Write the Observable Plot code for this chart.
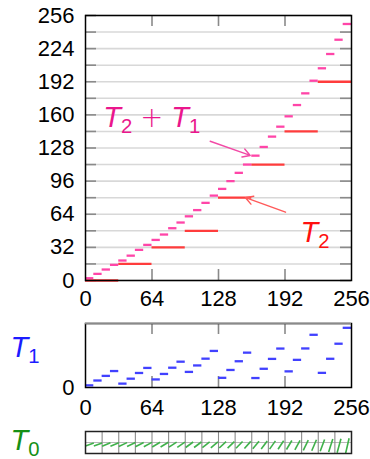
<!DOCTYPE html>
<html>
<head>
<meta charset="utf-8">
<script src="https://cdn.jsdelivr.net/npm/d3@7"></script>
<script src="https://cdn.jsdelivr.net/npm/@observablehq/plot@0.6"></script>
<style>
  html, body { margin: 0; padding: 0; background: white; width: 370px; height: 459px; overflow: hidden; }
  #chart svg { display: block; overflow: visible; }
</style>
</head>
<body>
<div id="chart"></div>
<script>
// ---------- data ----------
const xTicks = [0, 64, 128, 192, 256];
const xInnerTicks = [64, 128, 192];
const yLabels = [0, 32, 64, 96, 128, 160, 192, 224, 256];
const yGrid = [0, 16, 32, 48, 64, 80, 96, 112, 128, 144, 160, 176, 192, 208, 224, 240, 256];
const t0Grid = [16, 32, 48, 64, 80, 96, 112, 128, 144, 160, 176, 192, 208, 224, 240];

// T2: coarse table, one step per 32 inputs
const t2Start = [0, 32, 64, 96, 128, 160, 192, 224];
const t2Width = 32;
const t2Values = [0, 16, 32, 48, 80, 112, 144, 192];

// fine blocks, one step per 8 inputs
const blockStart = [0, 8, 16, 24, 32, 40, 48, 56, 64, 72, 80, 88, 96, 104, 112, 120,
                    128, 136, 144, 152, 160, 168, 176, 184, 192, 200, 208, 216, 224, 232, 240, 248];
const blockWidth = 8;

// T2 + T1
const sumValues = [2.2, 6.4, 10.6, 15.1, 19.3, 24, 29.6, 34.4,
                   39.2, 44.4, 50.5, 56, 62, 68, 75, 82,
                   88.5, 96, 104, 112, 120.6, 129, 139, 148.6,
                   158.6, 169.5, 180.8, 193, 205, 218.8, 232.6, 247.8];

// T1
const t1Values = [2, 6.5, 10.8, 15.3, 3.6, 8.2, 13.5, 18.2,
                  7.5, 12.6, 18.4, 24, 14.5, 20.5, 26.8, 34,
                  9, 16.3, 24.4, 32.4, 8.8, 17.4, 26.6, 36.2,
                  15, 25.7, 36.3, 49, 13.6, 26.7, 40.7, 55.5];
const t1Max = 59.5;

// T0 residual per fine block: start value, end value, horizontal extent
const t0Lo = [-3.5, -3.5, -3.8, -3.8, -4, -4, -4.2, -4.2,
              -4.5, -4.5, -4.7, -4.8, -5, -5, -5.2, -5.3,
              -5.5, -5.6, -5.8, -6, -6.2, -6.4, -6.6, -6.8,
              -7, -7.4, -7.8, -8.2, -8.8, -9.5, -10.2, -11];
const t0Hi = [-0.5, -0.4, -0.3, -0.2, -0.1, 0, 0, 0.1,
              0.2, 0.3, 0.3, 0.4, 0.5, 0.5, 0.6, 0.7,
              0.8, 0.9, 1, 1.1, 1.2, 1.4, 1.6, 1.8,
              2, 2.2, 2.4, 2.7, 3, 3.4, 3.8, 4.2];
const t0Span = [8, 8, 8, 8, 8, 8, 8, 7.8,
                7.6, 7.5, 7.4, 7.3, 7.2, 7, 7, 6.8,
                6.6, 6.5, 6.3, 6.1, 6, 5.8, 5.6, 5.4,
                5.2, 5, 4.8, 4.5, 4.2, 4, 3.7, 3.4];
const t0Range = 11;

// annotations (data coordinates)
const sumNote = {x: 17, y: 148, text: "T₂\u00a0+\u00a0T₁"};
const sumArrow = {x1: 120, y1: 134.5, x2: 158.5, y2: 120.8};
const t2Note = {x: 207, y: 37, text: "T₂"};
const t2Arrow = {x1: 192.5, y1: 66, x2: 154, y2: 80};

// ---------- tables ----------
const t2Data = t2Start.map((x0, i) => ({x0, x1: x0 + t2Width, v: t2Values[i]}));
const sumData = blockStart.map((x0, i) => ({x0, x1: x0 + blockWidth, v: sumValues[i]}));
const t1Data = blockStart.map((x0, i) => ({x0, x1: x0 + blockWidth, v: t1Values[i]}));
const t0Data = blockStart.map((x0, i) => ({
  xa: x0 + (blockWidth - t0Span[i]) / 2,
  xb: x0 + (blockWidth + t0Span[i]) / 2,
  lo: t0Lo[i], hi: t0Hi[i]
}));

// ---------- styling ----------
const FONT = "'Liberation Sans', Arial, sans-serif";
const W = 370, ML = 85, MR = 19;
const PW = W - ML - MR;
const TICK = 11;
const RED = "#ff3c3c", RED_TXT = "#ff1010", RED_ARROW = "#ff5a5a";
const PINK = "#ff45a8", PINK_TXT = "#ea168c", PINK_ARROW = "#f24aa6";
const BLUE = "#4141ff", BLUE_TXT = "#1c1cff";
const GREEN = "#3fb14a", GREEN_TXT = "#159015";
const TICK_COL = "#8a8a8a", GRID_COL = "#d8d8d8";
const LABEL_FS = 22, MATH_FS = 29;

function mathify(svg) {
  const ns = "http://www.w3.org/2000/svg";
  svg.querySelectorAll("text").forEach(t => {
    const s = t.textContent;
    if (!/[₀-₉]/.test(s)) return;
    const g = t.closest("[font-size]");
    const fs = parseFloat(t.getAttribute("font-size") || (g && g.getAttribute("font-size")) || MATH_FS);
    t.textContent = "";
    let shift = 0;
    for (const ch of s) {
      const ts = document.createElementNS(ns, "tspan");
      const sub = "₀₁₂₃₄₅₆₇₈₉".indexOf(ch);
      if (sub >= 0) {
        ts.textContent = String(sub);
        ts.setAttribute("font-size", (fs * 0.7).toFixed(1));
        ts.setAttribute("font-style", "normal");
        ts.setAttribute("dy", (fs * 0.2).toFixed(1));
        shift = fs * 0.2;
      } else {
        ts.textContent = ch;
        ts.setAttribute("font-style", ch === "T" ? "italic" : "normal");
        if (ch === "+") {
          ts.setAttribute("font-size", (fs * 0.95).toFixed(1));
          ts.setAttribute("font-family", "'DejaVu Sans', sans-serif");
          ts.setAttribute("font-weight", "200");
        }
        if (shift) { ts.setAttribute("dy", (-shift).toFixed(1)); shift = 0; }
      }
      t.appendChild(ts);
    }
  });
  return svg;
}

const baseStyle = {fontFamily: FONT, fontSize: LABEL_FS + "px", background: "transparent", overflow: "visible", color: "black"};

// ---------- main panel ----------
const mainH = 312, mainMT = 15, mainMB = 32;
const mainPH = mainH - mainMT - mainMB;
const mainPlot = Plot.plot({
  width: W, height: mainH, marginLeft: ML, marginRight: MR, marginTop: mainMT, marginBottom: mainMB,
  x: {domain: [0, 256], label: null},
  y: {domain: [0, 256], label: null},
  style: baseStyle,
  marks: [
    Plot.ruleY(yGrid, {stroke: GRID_COL, strokeWidth: 1.6}),
    Plot.tickY(yGrid, {y: d => d, stroke: TICK_COL, strokeWidth: 1.6, insetRight: PW - TICK}),
    Plot.tickY(yGrid, {y: d => d, stroke: TICK_COL, strokeWidth: 1.6, insetLeft: PW - TICK}),
    Plot.tickX(xInnerTicks, {x: d => d, stroke: TICK_COL, strokeWidth: 1.6, insetBottom: mainPH - TICK}),
    Plot.tickX(xInnerTicks, {x: d => d, stroke: TICK_COL, strokeWidth: 1.6, insetTop: mainPH - TICK}),
    Plot.ruleY(t2Data, {y: "v", x1: "x0", x2: "x1", stroke: RED, strokeWidth: 2.3}),
    Plot.ruleY(sumData, {y: "v", x1: "x0", x2: "x1", stroke: PINK, strokeWidth: 2.3}),
    Plot.arrow([sumArrow], {x1: "x1", y1: "y1", x2: "x2", y2: "y2", stroke: PINK_ARROW, strokeWidth: 1.4, headLength: 9}),
    Plot.arrow([t2Arrow], {x1: "x1", y1: "y1", x2: "x2", y2: "y2", stroke: RED_ARROW, strokeWidth: 1.4, headLength: 9}),
    Plot.text([sumNote], {x: "x", y: "y", text: "text", fill: PINK_TXT, fontSize: MATH_FS, textAnchor: "start", lineAnchor: "bottom"}),
    Plot.text([t2Note], {x: "x", y: "y", text: "text", fill: RED_TXT, fontSize: MATH_FS, textAnchor: "start", lineAnchor: "bottom"}),
    Plot.frame({stroke: "black", strokeWidth: 1.5}),
    Plot.axisX({ticks: xTicks, tickSize: 0, tickPadding: 10, fontSize: LABEL_FS, label: null}),
    Plot.axisY({ticks: yLabels, tickSize: 0, tickPadding: 11, fontSize: LABEL_FS, label: null})
  ]
});

// ---------- T1 panel ----------
const t1H = 108, t1MT = 11, t1MB = 33;
const t1PH = t1H - t1MT - t1MB;
const t1Plot = Plot.plot({
  width: W, height: t1H, marginLeft: ML, marginRight: MR, marginTop: t1MT, marginBottom: t1MB,
  x: {domain: [0, 256], label: null},
  y: {domain: [0, t1Max], label: null},
  style: baseStyle,
  marks: [
    Plot.tickX(xInnerTicks, {x: d => d, stroke: TICK_COL, strokeWidth: 1.6, insetBottom: t1PH - TICK}),
    Plot.tickX(xInnerTicks, {x: d => d, stroke: TICK_COL, strokeWidth: 1.6, insetTop: t1PH - TICK}),
    Plot.ruleY(t1Data, {y: "v", x1: "x0", x2: "x1", stroke: BLUE, strokeWidth: 2.3}),
    Plot.frame({stroke: "black", strokeWidth: 1.5}),
    Plot.ruleY([t1Max], {stroke: "#8a8a8a", strokeWidth: 1.6}),
    Plot.axisX({ticks: xTicks, tickSize: 0, tickPadding: 12, fontSize: LABEL_FS, label: null}),
    Plot.axisY({ticks: [0], tickSize: 0, tickPadding: 11, fontSize: LABEL_FS, label: null}),
    Plot.text(["T₁"], {frameAnchor: "left", dx: -75, dy: -8, textAnchor: "start", fill: BLUE_TXT, fontSize: MATH_FS})
  ]
});

// ---------- T0 panel ----------
const t0H = 39, t0MT = 11, t0MB = 6;
const t0Plot = Plot.plot({
  width: W, height: t0H, marginLeft: ML, marginRight: MR, marginTop: t0MT, marginBottom: t0MB,
  x: {domain: [0, 256], label: null, axis: null},
  y: {domain: [-t0Range, t0Range], label: null, axis: null},
  style: baseStyle,
  marks: [
    Plot.ruleY([0], {stroke: "#b8b8b8", strokeWidth: 1.2}),
    Plot.ruleX(t0Grid, {stroke: "#8a8a8a", strokeWidth: 1.1}),
    Plot.link(t0Data, {x1: "xa", y1: "lo", x2: "xb", y2: "hi", stroke: GREEN, strokeWidth: 1.6, clip: true}),
    Plot.frame({stroke: "#222", strokeWidth: 1.5}),
    Plot.text(["T₀"], {frameAnchor: "left", dx: -75, dy: -2, textAnchor: "start", fill: GREEN_TXT, fontSize: MATH_FS})
  ]
});

const chart = document.getElementById("chart");
[mainPlot, t1Plot, t0Plot].forEach(p => chart.appendChild(mathify(p)));
</script>
</body>
</html>
